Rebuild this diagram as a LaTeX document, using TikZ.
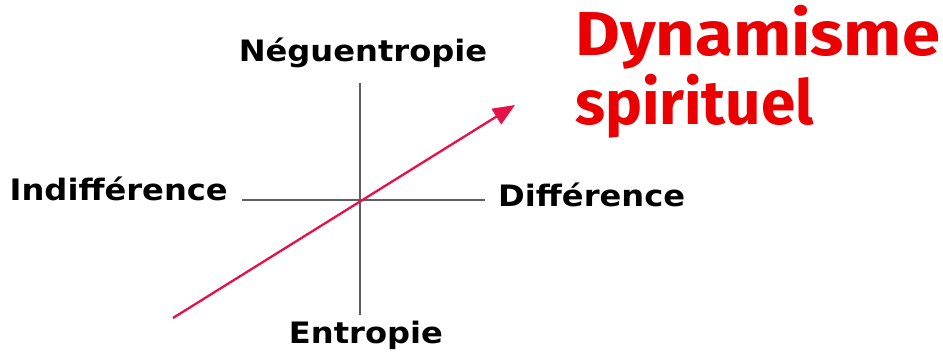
\documentclass[tikz,border=0pt]{standalone}
\usepackage{fontspec}
\setmainfont{DejaVu Sans}[FakeStretch=1.09]
\newfontfamily\dynfont{Fira Sans}
\usetikzlibrary{arrows.meta}
\definecolor{axisgray}{RGB}{95,95,95}
\definecolor{arrowred}{RGB}{232,16,72}
\definecolor{dynred}{RGB}{234,0,0}

\begin{document}
\begin{tikzpicture}[x=1pt,y=-1pt,
    pole/.style={font=\bfseries\fontsize{29.5}{32}\selectfont,inner sep=0pt},
    dyntext/.style={dynred,anchor=base west,inner sep=0pt,
      font=\dynfont\bfseries\fontsize{62}{67}\selectfont},
    axis/.style={draw=axisgray,line width=1.1pt}]
  \useasboundingbox (0,0) rectangle (943,352);
  % axes cross at (360,200)
  \coordinate (top) at (360,83);
  \coordinate (bottom) at (360,315);
  \coordinate (left) at (242,200);
  \coordinate (right) at (485,200);
  \draw[axis] (top)--(bottom);
  \draw[axis] (left)--(right);
  \node[pole,anchor=base] (neg) at (363,62) {Néguentropie};
  \node[pole,anchor=base] (ent) at (366,344) {Entropie};
  \node[pole,anchor=base east] (indif) at (228,201) {Indifférence};
  \node[pole,anchor=base west] (dif) at (498,207) {Différence};
  % the spiritual arrow
  \coordinate (start) at (173,318);
  \coordinate (tip) at (515,105);
  \draw[arrowred,line width=2.3pt,-{Triangle[length=22pt,width=18pt]}]
    (start)--(tip);
  \node[dyntext,xscale=1.11,transform shape] (dyn) at (575,56) {Dynamisme};
  \node[dyntext] (spir) at (575,125) {spirituel};
\end{tikzpicture}
\end{document}
